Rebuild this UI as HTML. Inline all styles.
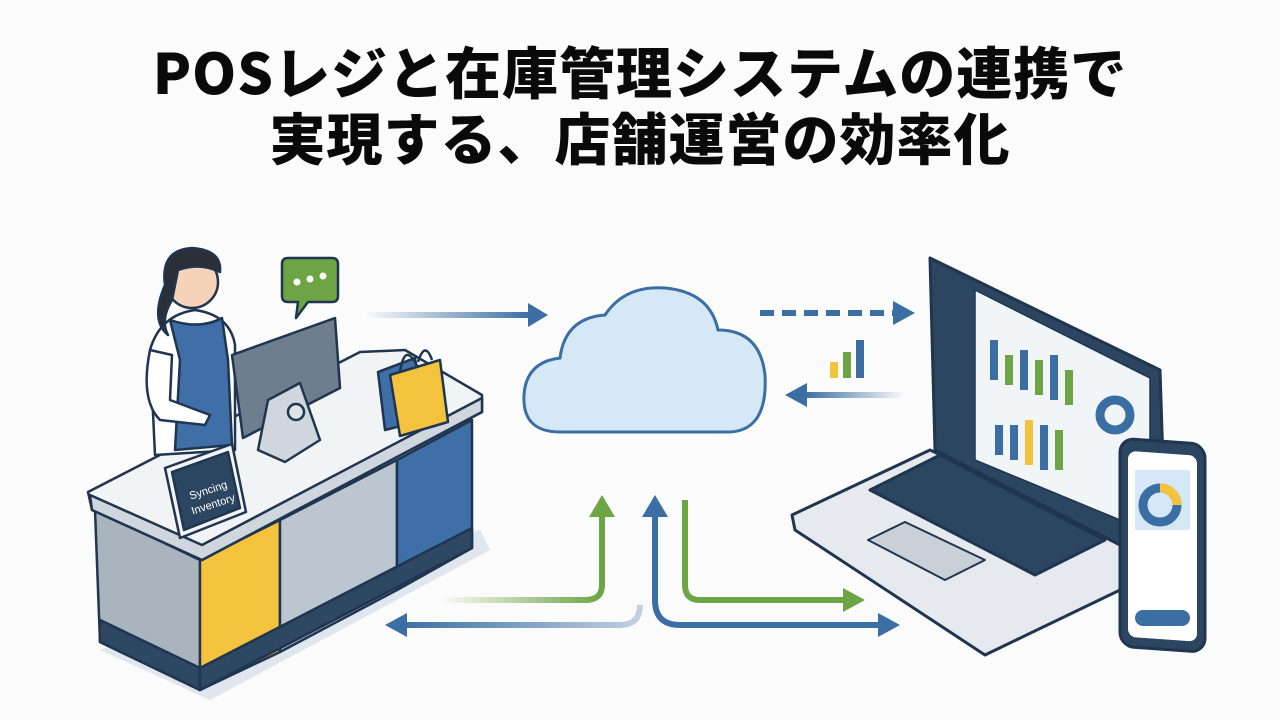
<!DOCTYPE html>
<html><head><meta charset="utf-8"><style>
body{margin:0;width:1280px;height:720px;overflow:hidden;background:#fbfbfb;font-family:"Liberation Sans","Noto Sans CJK JP",sans-serif}
h1{position:absolute;left:0;top:38px;width:1280px;margin:0;text-align:center;font-family:"Noto Sans CJK JP","Liberation Sans",sans-serif;font-weight:900;font-size:56px;line-height:66px;color:#0a0a0a;letter-spacing:1px}
svg{position:absolute;left:0;top:0}
</style></head><body>
<h1>POSレジと在庫管理システムの連携で<br>実現する、店舗運営の効率化</h1>
<svg width="1280" height="720" viewBox="0 0 1280 720">
<defs>
<linearGradient id="gb" gradientUnits="userSpaceOnUse" x1="365" x2="530" y1="0" y2="0"><stop offset="0" stop-color="#3b6fa3" stop-opacity="0"/><stop offset="1" stop-color="#3b6fa3"/></linearGradient>
<linearGradient id="gbr" gradientUnits="userSpaceOnUse" x1="905" x2="805" y1="0" y2="0"><stop offset="0" stop-color="#3b6fa3" stop-opacity="0"/><stop offset="1" stop-color="#3b6fa3"/></linearGradient>
<linearGradient id="gg" gradientUnits="userSpaceOnUse" x1="440" x2="600" y1="0" y2="0"><stop offset="0" stop-color="#6ea544" stop-opacity="0"/><stop offset="1" stop-color="#6ea544"/></linearGradient>
<linearGradient id="gbl" gradientUnits="userSpaceOnUse" x1="400" x2="640" y1="0" y2="0"><stop offset="0" stop-color="#3b6fa3"/><stop offset="1" stop-color="#3b6fa3" stop-opacity="0.3"/></linearGradient>
</defs>
<g stroke="#1f3550" stroke-width="2.5" stroke-linejoin="round">
<polygon points="100,650 210,700 490,550 480,530" fill="#dfe6ee" stroke="none"/>
<polygon points="95,510 200,560 200,690 100,642" fill="#a9b4bf"/>
<polygon points="100,620 200,668 200,690 100,642" fill="#2e4763"/>
<polygon points="200,560 280,520 280,652 200,690" fill="#f3c33e"/>
<polygon points="280,520 397,460 397,590 280,652" fill="#bcc6d0"/>
<polygon points="397,460 472,420 472,548 397,590" fill="#3f6fa6"/>
<polygon points="200,668 472,528 472,548 200,690" fill="#2e4763"/>
<polygon points="88,492 360,352 405,350 482,395 482,412 202,560 92,510" fill="#f1f3f5"/>
<polygon points="92,510 202,560 482,412 482,398 202,545 90,495" fill="#cfd6dd"/>
<path d="M150,350 Q160,315 195,310 Q230,315 235,345 L235,450 L155,455 Z" fill="#fff"/>
<path d="M170,320 L180,360 L175,450 L232,445 L228,360 L222,318 Q200,330 170,320Z" fill="#3f6fa6"/>
<path d="M150,350 Q140,400 160,420 L205,425 L210,415 L170,400 L172,355Z" fill="#fff"/>
<circle cx="192" cy="282" r="26" fill="#f6d3b8"/>
<path d="M165,285 Q160,250 192,248 Q222,250 220,272 Q200,262 178,270 L172,300 Q160,320 168,335 Q150,320 165,285Z" fill="#2a2f38"/>
<path d="M288,258 H332 Q338,258 338,264 V296 Q338,302 332,302 H308 L296,318 L298,302 H288 Q282,302 282,296 V264 Q282,258 288,258Z" fill="#6ea544"/>
<circle cx="297" cy="282" r="3.5" fill="#fff" stroke="none"/><circle cx="310" cy="279" r="3.5" fill="#fff" stroke="none"/><circle cx="323" cy="276" r="3.5" fill="#fff" stroke="none"/>
<polygon points="232,355 335,318 340,388 243,438" fill="#6f7e8e"/>
<polygon points="268,400 300,383 320,440 285,462 258,450" fill="#cfd6dd"/>
<circle cx="296" cy="412" r="8" fill="#dfe4e9"/>
<polygon points="378,372 415,358 425,420 385,430" fill="#3f6fa6"/>
<polygon points="390,375 440,360 448,422 400,436" fill="#f3c33e"/>
<path d="M400,372 Q405,340 418,368 M418,362 Q425,340 432,360" fill="none"/>
<polygon points="165,468 232,444 246,512 180,538" fill="#f1f3f5"/>
<polygon points="172,472 228,452 240,508 184,530" fill="#2c4560"/>
</g>
<text x="190" y="495" font-size="11" fill="#fff" transform="rotate(-18 205 495)" font-family="Liberation Sans">Syncing</text>
<text x="192" y="510" font-size="11" fill="#fff" transform="rotate(-18 207 510)" font-family="Liberation Sans">Inventory</text>

<path d="M560,432 Q522,432 524,395 Q526,362 560,358 Q565,318 605,315 Q625,285 665,288 Q710,292 718,330 Q760,330 765,375 Q768,430 730,432 Z" fill="#d6e8f6" stroke="#3b6fa3" stroke-width="3"/>

<g fill="none" stroke-width="6">
<line x1="365" y1="315" x2="530" y2="315" stroke="url(#gb)"/>
<line x1="760" y1="313" x2="895" y2="313" stroke="#3b6fa3" stroke-dasharray="14 8"/>
<line x1="805" y1="395" x2="905" y2="395" stroke="url(#gbr)"/>
<path d="M440,600 H585 Q602,600 602,585 V515" stroke="url(#gg)"/>
<path d="M685,500 V585 Q685,600 700,600 H845" stroke="#6ea544"/>
<path d="M400,625 H620 Q640,625 640,605" stroke="url(#gbl)"/>
<path d="M655,515 V600 Q655,625 680,625 H880" stroke="#3b6fa3"/>
</g>
<g stroke="none">
<polygon points="548,315 528,303 528,327" fill="#3b6fa3"/>
<polygon points="915,313 893,301 893,325" fill="#3b6fa3"/>
<polygon points="785,395 807,383 807,407" fill="#3b6fa3"/>
<polygon points="602,495 589,517 615,517" fill="#6ea544"/>
<polygon points="655,495 642,517 668,517" fill="#3b6fa3"/>
<polygon points="865,600 843,588 843,612" fill="#6ea544"/>
<polygon points="385,625 407,613 407,637" fill="#3b6fa3"/>
<polygon points="900,625 878,613 878,637" fill="#3b6fa3"/>
<rect x="830" y="362" width="8" height="16" fill="#f3c33e"/><rect x="843" y="352" width="8" height="26" fill="#6ea544"/><rect x="856" y="340" width="8" height="38" fill="#3b6fa3"/>
</g>

<g stroke="#1f3550" stroke-width="3" stroke-linejoin="round">
<polygon points="792,515 930,450 1125,540 1120,590 985,655 795,530" fill="#e6eaee"/>
<polygon points="870,490 940,455 1105,540 1035,575" fill="#2c4560"/>
<polygon points="868,540 905,522 985,560 945,580" fill="#c9d0d7" stroke-width="2"/>
<polygon points="930,258 1160,370 1165,525 1120,545 935,450" fill="#2c4560"/>
<polygon points="975,290 1150,378 1150,510 1120,520 975,460" fill="#f2f5f8" stroke-width="1.5"/>
</g>
<g stroke="none">
<rect x="990" y="340" width="8" height="40" fill="#3b6fa3"/><rect x="1005" y="355" width="8" height="30" fill="#6ea544"/><rect x="1020" y="350" width="8" height="40" fill="#3b6fa3"/><rect x="1035" y="360" width="8" height="35" fill="#6ea544"/><rect x="1050" y="355" width="8" height="45" fill="#3b6fa3"/><rect x="1065" y="370" width="8" height="35" fill="#6ea544"/>
<rect x="995" y="425" width="8" height="30" fill="#3b6fa3"/><rect x="1010" y="425" width="8" height="35" fill="#3b6fa3"/><rect x="1025" y="420" width="8" height="45" fill="#f3c33e"/><rect x="1040" y="425" width="8" height="45" fill="#3b6fa3"/><rect x="1055" y="430" width="8" height="40" fill="#6ea544"/>
</g>
<circle cx="1115" cy="415" r="15" fill="none" stroke="#3b6fa3" stroke-width="9"/>
<g stroke="#1f3550" stroke-width="3">
<rect x="1120" y="440" width="85" height="208" rx="14" fill="#2c4560" transform="skewY(4) translate(0,-80)"/>
<rect x="1128" y="452" width="69" height="186" rx="8" fill="#fff" stroke="none" transform="skewY(4) translate(0,-80)"/>
</g>
<rect x="1135" y="470" width="55" height="60" fill="#d6e8f6"/>
<circle cx="1160" cy="505" r="17" fill="none" stroke="#3b6fa3" stroke-width="9"/>
<path d="M1160,488 A17,17 0 0 1 1177,505" fill="none" stroke="#f3c33e" stroke-width="9"/>
<rect x="1135" y="610" width="55" height="16" rx="8" fill="#3b6fa3"/>
</svg>
</body></html>
